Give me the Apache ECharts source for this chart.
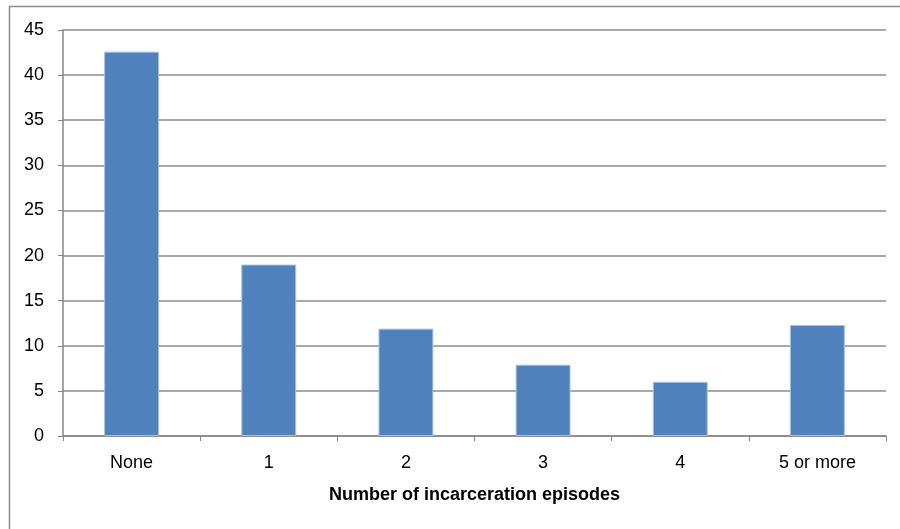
<!DOCTYPE html>
<html><head><meta charset="utf-8">
<script src="https://cdn.jsdelivr.net/npm/echarts@6/dist/echarts.min.js"></script>
<style>html,body{margin:0;padding:0;background:#fff}#c{width:900px;height:529px}</style>
</head><body><div id="c"></div>
<script>
const categories = ['None', '1', '2', '3', '4', '5 or more'];
const values = [42.6, 19.0, 11.9, 7.9, 6.0, 12.3];
const yTicks = [0, 5, 10, 15, 20, 25, 30, 35, 40, 45];
const xTitle = 'Number of incarceration episodes';

const chart = echarts.init(document.getElementById('c'));
const font = 'Liberation Sans, Arial, sans-serif';
chart.setOption({
  animation: false,
  graphic: [{
    type: 'rect', shape: {x: 9.5, y: 6.5, width: 900, height: 530},
    style: {fill: 'none', stroke: '#8c8c8c', lineWidth: 1.5}, silent: true
  }],
  grid: {left: 63, right: 14, top: 30, bottom: 93},
  xAxis: {
    type: 'category', data: categories,
    axisLine: {lineStyle: {color: '#868686', width: 1.5}},
    axisTick: {show: true, alignWithLabel: false, length: 5, lineStyle: {color: '#868686'}},
    axisLabel: {color: '#000', fontSize: 18, fontFamily: font, margin: 18},
    name: xTitle, nameLocation: 'middle', nameGap: 50,
    nameTextStyle: {color: '#000', fontSize: 18, fontWeight: 'bold', fontFamily: font}
  },
  yAxis: {
    type: 'value', min: yTicks[0], max: yTicks[yTicks.length - 1], interval: 5,
    axisLine: {show: true, lineStyle: {color: '#868686', width: 1.5}},
    axisTick: {show: true, length: 5, lineStyle: {color: '#868686'}},
    axisLabel: {color: '#000', fontSize: 18, fontFamily: font, margin: 19},
    splitLine: {lineStyle: {color: '#8c8c8c', width: 1.5}}
  },
  series: [{
    type: 'bar', data: values, barWidth: '40%',
    itemStyle: {color: '#4f81bd', borderColor: '#a7bfdf', borderWidth: 1}
  }]
});
</script></body></html>
